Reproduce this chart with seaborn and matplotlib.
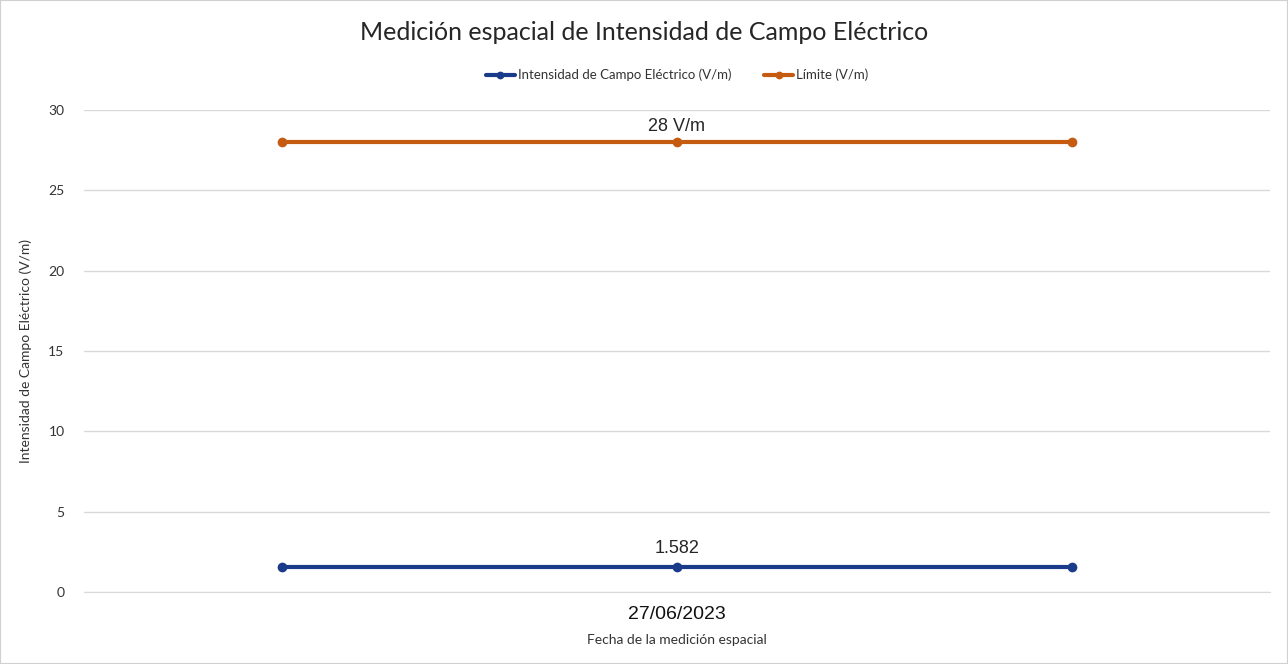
import matplotlib
matplotlib.use('Agg')
import matplotlib.pyplot as plt
import pandas as pd
import seaborn as sns

# datos
posiciones = [0, 1, 2]
intensidad = [1.582, 1.582, 1.582]
limite = [28, 28, 28]
fecha = '27/06/2023'
serie_intensidad = 'Intensidad de Campo Eléctrico (V/m)'
serie_limite = 'Límite (V/m)'

df = pd.DataFrame({
    'x': posiciones * 2,
    'valor': intensidad + limite,
    'serie': [serie_intensidad] * 3 + [serie_limite] * 3,
})

sns.set_style('white')
plt.rcParams['font.family'] = ['Lato', 'DejaVu Sans']

fig = plt.figure(figsize=(12.88, 6.64), dpi=100)
ax = fig.add_axes([84 / 1288, 1 - 592 / 664, (1270 - 84) / 1288, (592 - 110) / 664])

paleta = {serie_intensidad: '#1a3a8a', serie_limite: '#c55a11'}
sns.lineplot(data=df, x='x', y='valor', hue='serie', palette=paleta, marker='o',
             markersize=7, markeredgewidth=0, linewidth=3, ax=ax, legend=True)

ax.set_xlim(-0.5, 2.5)
ax.set_ylim(0, 30)
ax.set_yticks(range(0, 31, 5))
ax.set_xticks([1])
ax.set_xticklabels([fecha], fontsize=14, fontfamily='Liberation Sans', color='#111111')
ax.tick_params(axis='y', labelsize=10, colors='#333333', length=0, pad=14)
ax.tick_params(axis='x', length=0, pad=10)
ax.grid(axis='y', color='#d9d9d9', linewidth=1)
for lado in ['left', 'right', 'top']:
    ax.spines[lado].set_visible(False)
ax.spines['bottom'].set_color('#d9d9d9')

ax.set_xlabel('Fecha de la medición espacial', fontsize=10, color='#333333', labelpad=8)
ax.set_ylabel('Intensidad de Campo Eléctrico (V/m)', fontsize=10, color='#333333', labelpad=12)

ax.annotate('28 V/m', (posiciones[1], limite[1]), xytext=(0, 5), textcoords='offset points',
            ha='center', va='bottom', fontsize=13, fontfamily='Liberation Sans')
ax.annotate(f'{intensidad[1]:.3f}', (posiciones[1], intensidad[1]), xytext=(0, 7),
            textcoords='offset points', ha='center', va='bottom', fontsize=13,
            fontfamily='Liberation Sans')

fig.suptitle('Medición espacial de Intensidad de Campo Eléctrico', fontsize=18,
             color='#262626', y=0.968)
leg = ax.legend(loc='lower center', bbox_to_anchor=(0.5, 1.035), ncol=2, frameon=False,
                fontsize=9.5, handlelength=2.2, handletextpad=0.2, columnspacing=2.5,
                markerscale=0.8)
for t in leg.get_texts():
    t.set_color('#333333')

fig.patches.append(plt.Rectangle((0, 0), 1, 1, transform=fig.transFigure, fill=False,
                                 edgecolor='#d0d0d0', linewidth=1.5))
fig.savefig('out.png', dpi=100)
